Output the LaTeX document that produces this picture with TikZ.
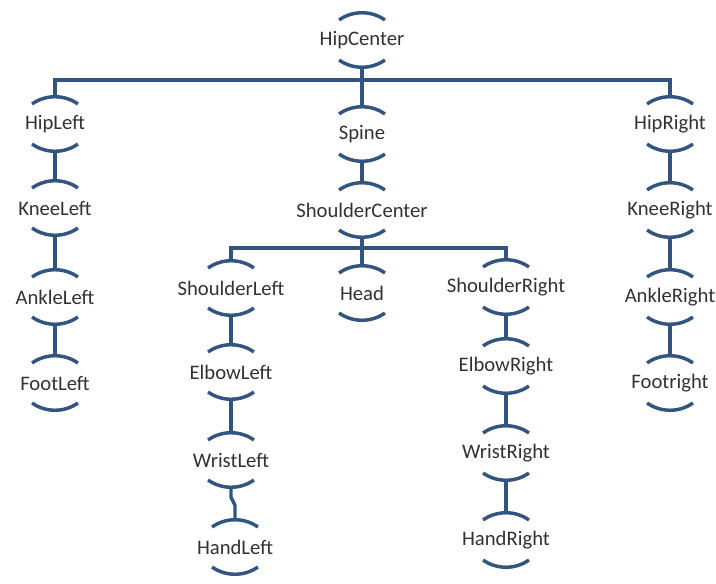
\documentclass[tikz,border=0pt]{standalone}
\usepackage{fontspec}
\setmainfont{Carlito}
\usepackage{tikz}
\definecolor{bonecol}{RGB}{50,84,128}
\definecolor{labelcol}{RGB}{50,50,50}
\tikzset{
  joint/.style = {rectangle, inner sep = 0pt, minimum height = 40.5pt,
                  text = labelcol, font = \fontsize{15.5}{18}\selectfont},
  bone/.style = {draw = bonecol, line width = 2.6pt},
}

\begin{document}
\begin{tikzpicture}[x = 0.75pt, y = 0.75pt]
                \useasboundingbox (0,0) rectangle (716,-584);

                \node[joint] (hipc) at (362,-40) {HipCenter};
                \node[joint] (hipl) at (55,-124) {HipLeft};
                \node[joint] (spine) at (362,-134) {Spine};
                \node[joint] (hipr) at (670,-124) {HipRight};
                \node[joint] (kneel) at (55,-208) {KneeLeft};
                \node[joint] (shc) at (362,-210) {ShoulderCenter};
                \node[joint] (kneer) at (670,-210) {KneeRight};
                \node[joint] (anklel) at (55,-297) {AnkleLeft};
                \node[joint] (shl) at (231,-288) {ShoulderLeft};
                \node[joint] (head) at (362,-293) {Head};
                \node[joint] (shr) at (506,-287) {ShoulderRight};
                \node[joint] (ankler) at (670,-297) {AnkleRight};
                \node[joint] (footl) at (55,-383) {FootLeft};
                \node[joint] (elbl) at (231,-372) {ElbowLeft};
                \node[joint] (elbr) at (506,-366) {ElbowRight};
                \node[joint] (footr) at (670,-383) {Footright};
                \node[joint] (wrl) at (231,-460) {WristLeft};
                \node[joint] (wrr) at (506,-453) {WristRight};
                \node[joint] (handl) at (235,-547) {HandLeft};
                \node[joint] (handr) at (506,-540) {HandRight};

                \foreach \j in {hipc,hipl,spine,hipr,kneel,shc,kneer,anklel,shl,head,
                                shr,ankler,footl,elbl,elbr,footr,wrl,wrr,handl,handr} {
                  \draw[bone] ([shift={(0,-40)}]\j.north) ++(125:40)
                    arc[start angle = 125, end angle = 55, radius = 40];
                  \draw[bone] ([shift={(0,40)}]\j.south) ++(235:40)
                    arc[start angle = 235, end angle = 305, radius = 40];
                }

                \coordinate (hipfork) at (362,-80);
                \coordinate (shfork) at (362,-248);

                \draw[bone] (hipc.south) -- (hipfork) -- (spine.north);
                \draw[bone] (hipl.north) |- (hipfork) -| (hipr.north);
                \draw[bone] (hipl.south) -- (kneel.north);
                \draw[bone] (kneel.south) -- (anklel.north);
                \draw[bone] (anklel.south) -- (footl.north);
                \draw[bone] (hipr.south) -- (kneer.north);
                \draw[bone] (kneer.south) -- (ankler.north);
                \draw[bone] (ankler.south) -- (footr.north);
                \draw[bone] (spine.south) -- (shc.north);
                \draw[bone] (shc.south) -- (shfork) -- (head.north);
                \draw[bone] (shl.north) |- (shfork) -| (shr.north);
                \draw[bone] (shl.south) -- (elbl.north);
                \draw[bone] (elbl.south) -- (wrl.north);
                \draw[bone] (wrl.south) -- ++(0,-10) -- ++(4,-8) |- (handl.north);
                \draw[bone] (shr.south) -- (elbr.north);
                \draw[bone] (elbr.south) -- (wrr.north);
                \draw[bone] (wrr.south) -- (handr.north);
\end{tikzpicture}
\end{document}
